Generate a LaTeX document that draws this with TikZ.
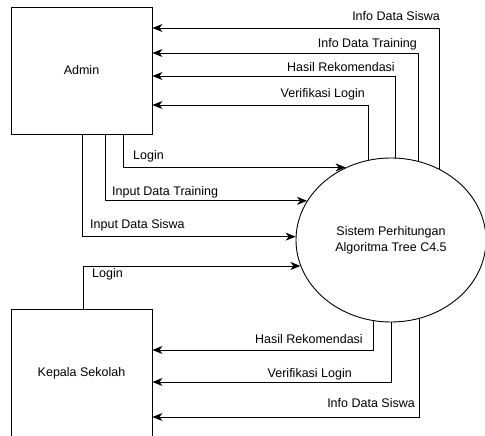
\documentclass[tikz,border=0pt]{standalone}
\usepackage{fontspec}
\setmainfont{Liberation Sans}
\usetikzlibrary{arrows.meta,shapes.geometric}
\begin{document}
\begin{tikzpicture}[x=1pt,y=-1pt,
  every node/.style={font=\fontsize{12.5}{16}\selectfont},
  entity/.style={draw, line width=0.9pt, minimum width=141pt, inner sep=0pt},
  process/.style={draw, ellipse, line width=0.9pt, minimum width=190pt,
    minimum height=164pt, inner sep=0pt, align=center},
  flow/.style={draw, line width=0.9pt, -{Stealth[length=10pt,width=8pt,inset=3pt]}},
  lbl/.style={inner sep=0pt}]
\useasboundingbox (0,0) rectangle (485,436);

% external entities and the process
\node[entity, minimum height=127pt] (admin) at (81.5,70.5) {Admin};
\node[entity, minimum height=129pt] (kepsek) at (81.5,373.5) {Kepala Sekolah};
\node[process] (sys) at (391,240) {Sistem Perhitungan\\Algoritma Tree C4.5};

% process -> Admin
\draw[flow] (sys.56.6)  |- ([yshift=42.5pt]admin.east);
\draw[flow] (sys.71.8)  |- ([yshift=17.5pt]admin.east);
\draw[flow] (sys.87.9)  |- ([yshift=-5.5pt]admin.east);
\draw[flow] (sys.106.8) |- ([yshift=-34.5pt]admin.east);

% Admin -> process
\draw[flow] ([xshift=41.5pt]admin.south) |- (sys.122.3);
\draw[flow] ([xshift=23.5pt]admin.south) |- (sys.155.7);
\draw[flow] ([xshift=0.5pt]admin.south)  |- (sys.178.8);

% Kepala Sekolah -> process
\draw[flow] ([xshift=1.5pt]kepsek.north) |- (sys.196.1);

% process -> Kepala Sekolah
\draw[flow] (sys.258.1) |- ([yshift=23.5pt]kepsek.east);
\draw[flow] (sys.270.7) |- ([yshift=-8.5pt]kepsek.east);
\draw[flow] (sys.290.4) |- ([yshift=-43.5pt]kepsek.east);

% flow labels
\node[lbl, anchor=base east] (t1) at (440,20.5)  {Info Data Siswa};
\node[lbl, anchor=base east] (t2) at (417,47.5)  {Info Data Training};
\node[lbl, anchor=base east] (t3) at (395,71.5)  {Hasil Rekomendasi};
\node[lbl, anchor=base east] (t4) at (365,97.5)  {Verifikasi Login};
\node[lbl, anchor=base west] (t5) at (133,159.5) {Login};
\node[lbl, anchor=base west] (t6) at (112,195.5) {Input Data Training};
\node[lbl, anchor=base west] (t7) at (90,228.5)  {Input Data Siswa};
\node[lbl, anchor=base west] (t8) at (92,277.5)  {Login};
\node[lbl, anchor=base east] (t9) at (363,343.5) {Hasil Rekomendasi};
\node[lbl, anchor=base east] (t10) at (352,377.5) {Verifikasi Login};
\node[lbl, anchor=base east] (t11) at (415,407.5) {Info Data Siswa};
\end{tikzpicture}
\end{document}
